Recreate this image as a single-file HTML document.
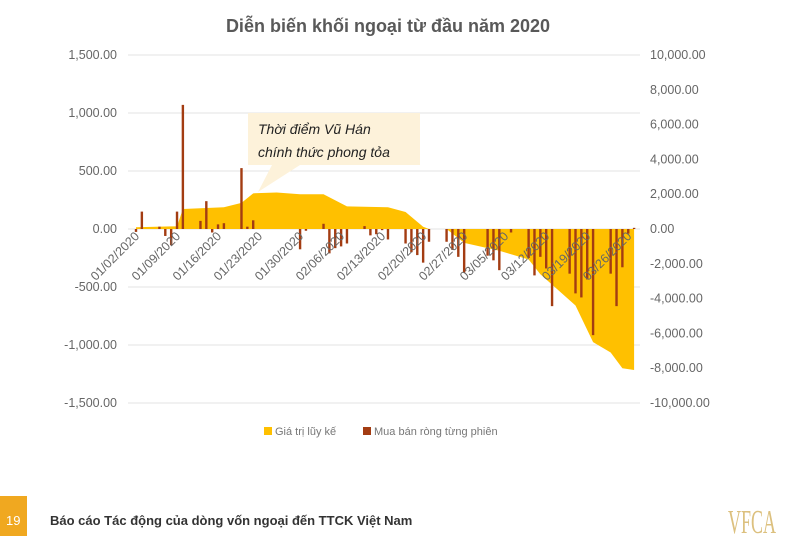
<!DOCTYPE html>
<html><head><meta charset="utf-8">
<style>
body{margin:0;width:800px;height:536px;background:#fff;overflow:hidden;font-family:"Liberation Sans","Noto Sans CJK SC",sans-serif;}
svg{position:absolute;left:0;top:0}
</style></head>
<body>
<svg id="chart" width="800" height="536">
  <text x="388" y="32" text-anchor="middle" font-size="18" font-weight="bold" fill="#595959">Diễn biến khối ngoại từ đầu năm 2020</text>
  <g id="grid"></g>
  <g id="area"></g>
  <g id="bars"></g>
  <g id="yl"></g>
  <g id="yr"></g>
  <g id="xa"></g>
  <g>
    <path d="M248,113 H420 V165 H300 L258,192 L272,165 H248 Z" fill="#fdf2da"/>
    <text x="258" y="134" font-size="14" font-style="italic" fill="#222">Thời điểm Vũ Hán</text>
    <text x="258" y="157" font-size="14" font-style="italic" fill="#222">chính thức phong tỏa</text>
  </g>
  <g>
    <rect x="264" y="427" width="8" height="8" fill="#ffc000"/>
    <text x="275" y="435" font-size="11" fill="#777">Giá trị lũy kế</text>
    <rect x="363" y="427" width="8" height="8" fill="#a33c12"/>
    <text x="374" y="435" font-size="11" fill="#777">Mua bán ròng từng phiên</text>
  </g>
  <rect x="0" y="496" width="27" height="40" fill="#f0a820"/>
  <text x="6" y="525" font-size="13" fill="#fff">19</text>
  <text x="50" y="525" font-size="13" font-weight="bold" fill="#333">Báo cáo Tác động của dòng vốn ngoại đến TTCK Việt Nam</text>
  <text x="728" y="533" font-family="Liberation Serif,serif" font-size="34" fill="#dcc07e" textLength="48" lengthAdjust="spacingAndGlyphs">VFCA</text>
</svg>
<script>
// daily net buy/sell (left axis, bn VND), day offset from 01/02/2020
const barDays = [0,1,4,5,6,7,8,11,12,13,14,15,18,19,20,28,29,32,33,34,35,36,39,40,41,42,43,46,47,48,49,50,53,54,55,56,60,61,62,64,67,68,69,70,71,74,75,76,77,78,81,82,83,84,85];
const barValues = [-25,150,20,-60,-140,150,1070,70,240,-30,40,50,525,20,75,-175,-15,45,-210,-165,-150,-125,25,-55,-45,-10,-90,-125,-200,-225,-290,-110,-110,-180,-240,-375,-230,-270,-355,-30,-250,-400,-240,-340,-665,-385,-555,-590,-435,-915,-385,-665,-330,-40,10];
// cumulative value (right axis)
const cumDays = [0,6,7,8,15,18,20,24,28,32,36,43,46,49,50,53,56,62,67,69,71,75,78,81,83,85];
const cumValues = [100,150,150,1150,1250,1500,2050,2100,2000,2000,1300,1250,980,130,0,0,-800,-1250,-1750,-2600,-3200,-4400,-6500,-7100,-8000,-8100];
const leftTicks = [1500,1000,500,0,-500,-1000,-1500];
const rightTicks = [10000,8000,6000,4000,2000,0,-2000,-4000,-6000,-8000,-10000];
const xTickDays = [0,7,14,21,28,35,42,49,56,63,70,77,84];
const xTickLabels = ["01/02/2020","01/09/2020","01/16/2020","01/23/2020","01/30/2020","02/06/2020","02/13/2020","02/20/2020","02/27/2020","03/05/2020","03/12/2020","03/19/2020","03/26/2020"];

const NS="http://www.w3.org/2000/svg";
const x = d => 136 + d*5.86;
const yL = v => 229 - v*58/500;
const yR = v => 229 - v*17.4/1000;
function mk(tag, attrs, parent){const e=document.createElementNS(NS,tag);for(const k in attrs)e.setAttribute(k,attrs[k]);parent.appendChild(e);return e;}
const grid=document.getElementById('grid'), yl=document.getElementById('yl'), yr=document.getElementById('yr'), xa=document.getElementById('xa');
leftTicks.forEach(v=>{
  const l=mk('line',{x1:128,x2:640,y1:yL(v),y2:yL(v),stroke:'#e3e3e3','stroke-width':1},grid);
  
  
  const t=mk('text',{x:117,y:yL(v)+4,'text-anchor':'end','font-size':12.5,fill:'#666'},yl);
  t.textContent=v.toLocaleString('en-US',{minimumFractionDigits:2});
  
  
});
rightTicks.forEach(v=>{
  const t=mk('text',{x:650,y:yR(v)+4,'font-size':12.5,fill:'#666'},yr);
  t.textContent=v.toLocaleString('en-US',{minimumFractionDigits:2});
  
  
});
let p='M'+x(cumDays[0])+','+yR(0);
cumDays.forEach((d,i)=>{p+=' L'+x(d)+','+yR(cumValues[i]);});
p+=' L'+x(cumDays[cumDays.length-1])+','+yR(0)+' Z';
const a=mk('path',{d:p,fill:'#ffc000'},document.getElementById('area'));


const bg=document.getElementById('bars');
barDays.forEach((d,i)=>{
  const v=barValues[i], y0=yL(0), y1=yL(v);
  const r=mk('rect',{x:x(d)-1.2,y:Math.min(y0,y1),width:2.4,height:Math.max(1,Math.abs(y1-y0)),fill:'#a33c12'},bg);
  
  
});
xTickDays.forEach((d,i)=>{
  const tx=x(d)+4, ty=237;
  const t=mk('text',{x:tx,y:ty,'text-anchor':'end','font-size':12.5,fill:'#666',transform:`rotate(-45 ${tx} ${ty})`},xa);
  t.textContent=xTickLabels[i];
  
  
});
</script>
</body></html>
